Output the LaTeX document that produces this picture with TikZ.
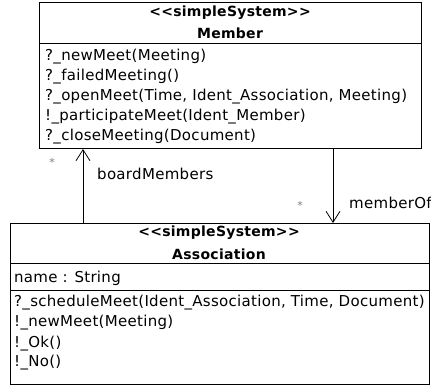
\documentclass[tikz,border=0pt]{standalone}
\usepackage{fontspec}
\setmainfont{DejaVu Sans}[LetterSpace=2]
\usetikzlibrary{arrows.meta}
\begin{document}
\begin{tikzpicture}[x=1pt,y=1pt,
  classbox/.style={draw, line width=1pt, anchor=north west, inner sep=0pt},
  txt/.style={anchor=west, inner sep=0pt, font=\fontsize{15}{18}\selectfont},
  head/.style={anchor=center, inner sep=0pt, font=\fontsize{14}{17}\selectfont\bfseries},
  assocline/.style={line width=0.8pt, -{Straight Barb[length=11pt,width=14pt,line width=0.8pt]}},
  mult/.style={inner sep=0pt, font=\fontsize{11}{12}\selectfont, text=gray}]
\useasboundingbox (0,0) rectangle (431,-388);

% Member class
\node[classbox, minimum width=382pt, minimum height=146pt] (member) at (39,-2) {};
\draw[line width=1pt] (39,-43) -- (421,-43);
\node[head] (mst) at (230,-13) {{<}{<}simpleSystem{>}{>}};
\node[head] (mname) at (230,-33) {Member};
\node[txt] (m1) at (45,-57) {?\_newMeet(Meeting)};
\node[txt] (m2) at (45,-77) {?\_failedMeeting()};
\node[txt] (m3) at (45,-97) {?\_openMeet(Time, Ident\_Association, Meeting)};
\node[txt] (m4) at (45,-117) {!\_participateMeet(Ident\_Member)};
\node[txt] (m5) at (45,-137) {?\_closeMeeting(Document)};

% Association class
\node[classbox, minimum width=419pt, minimum height=161pt] (assoc) at (10,-223) {};
\draw[line width=1pt] (10,-263) -- (429,-263);
\draw[line width=1pt] (10,-290) -- (429,-290);
\node[head] (ast) at (219,-233) {{<}{<}simpleSystem{>}{>}};
\node[head] (aname) at (219,-254) {Association};
\node[txt] (a0) at (14,-278) {name : String};
\node[txt] (a1) at (14,-303) {?\_scheduleMeet(Ident\_Association, Time, Document)};
\node[txt] (a2) at (14,-323) {!\_newMeet(Meeting)};
\node[txt] (a3) at (14,-344) {!\_Ok()};
\node[txt] (a4) at (14,-363) {!\_No()};

% associations
\draw[assocline] (assoc.north -| 83,0) -- (member.south -| 83,0);
\draw[assocline] (member.south -| 333,0) -- (assoc.north -| 333,0);
\node[mult] (s1) at (52,-162) {*};
\node[txt] (l1) at (97,-174) {boardMembers};
\node[mult] (s2) at (300,-205) {*};
\node[txt] (l2) at (349,-203) {memberOf};
\end{tikzpicture}
\end{document}
